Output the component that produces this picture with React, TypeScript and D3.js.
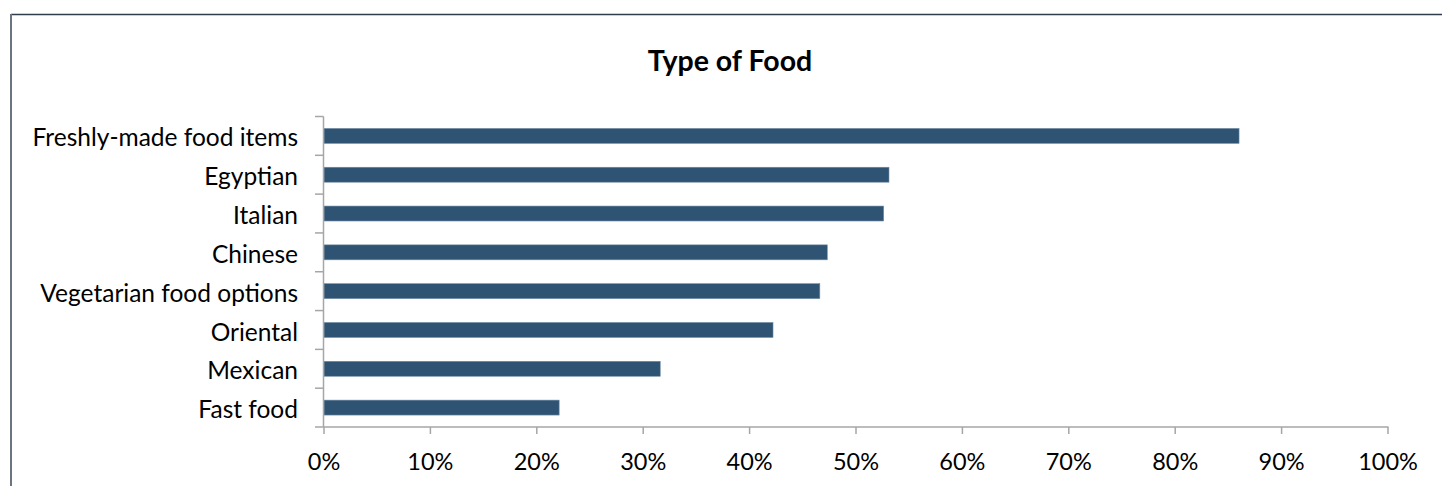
import React from "react";
import * as d3 from "d3";

const categories = [
  "Freshly-made food items",
  "Egyptian",
  "Italian",
  "Chinese",
  "Vegetarian food options",
  "Oriental",
  "Mexican",
  "Fast food",
];
const values = [86.0, 53.1, 52.6, 47.3, 46.6, 42.2, 31.6, 22.1];
const xTicks = [0, 10, 20, 30, 40, 50, 60, 70, 80, 90, 100];
const title = "Type of Food";

const W = 1442;
const H = 486;
const FONT = "Lato, 'Open Sans', sans-serif";

export default function App() {
  const x = d3.scaleLinear().domain([0, 100]).range([324, 1388]);
  const y = d3.scaleBand<string>().domain(categories).range([116.5, 427]).paddingInner(0.615).paddingOuter(0.3075);
  const band = (427 - 116.5) / categories.length;
  const axisColor = "#a6a6a6";

  return (
    <svg
      width={W}
      height={H}
      style={{ position: "absolute", left: 0, top: 0, background: "#fff" }}
    >
      {/* chart border */}
      <line x1={11} y1={14.5} x2={1442} y2={14.5} stroke="#2f3d4a" strokeWidth={1.5} />
      <line x1={11} y1={14} x2={11} y2={H} stroke="#6b7580" strokeWidth={2} />

      <text
        x={730}
        y={70.5}
        textAnchor="middle"
        fontFamily={FONT}
        fontWeight="bold"
        fontSize={28.5}
        fill="#000"
      >
        {title}
      </text>

      {/* bars */}
      {categories.map((c, i) => (
        <rect
          key={c}
          x={x(0)}
          y={y(c)!}
          width={x(values[i]) - x(0)}
          height={y.bandwidth()}
          fill="#2f5373"
          stroke="#6f8ba5"
          strokeWidth={0.6}
        />
      ))}

      {/* y axis */}
      <line x1={323.5} y1={116.5} x2={323.5} y2={427} stroke={axisColor} strokeWidth={1.5} />
      {d3.range(categories.length + 1).map((i) => (
        <line
          key={"yt" + i}
          x1={315}
          x2={323.5}
          y1={116.5 + i * band}
          y2={116.5 + i * band}
          stroke={axisColor}
          strokeWidth={1.5}
        />
      ))}
      {categories.map((c) => (
        <text
          key={"yl" + c}
          x={298}
          y={y(c)! + y.bandwidth() / 2}
          dy="0.43em"
          textAnchor="end"
          fontFamily={FONT}
          fontSize={24.5}
          fill="#000"
        >
          {c}
        </text>
      ))}

      {/* x axis */}
      <line x1={323.5} y1={427} x2={1388.5} y2={427} stroke={axisColor} strokeWidth={1.5} />
      {xTicks.map((t) => (
        <g key={"xt" + t}>
          <line x1={x(t)} x2={x(t)} y1={427} y2={434} stroke={axisColor} strokeWidth={1.5} />
          <text
            x={x(t)}
            y={462}
            dy="0.35em"
            textAnchor="middle"
            fontFamily={FONT}
            fontSize={23.5}
            fill="#000"
          >
            {t + "%"}
          </text>
        </g>
      ))}
    </svg>
  );
}
